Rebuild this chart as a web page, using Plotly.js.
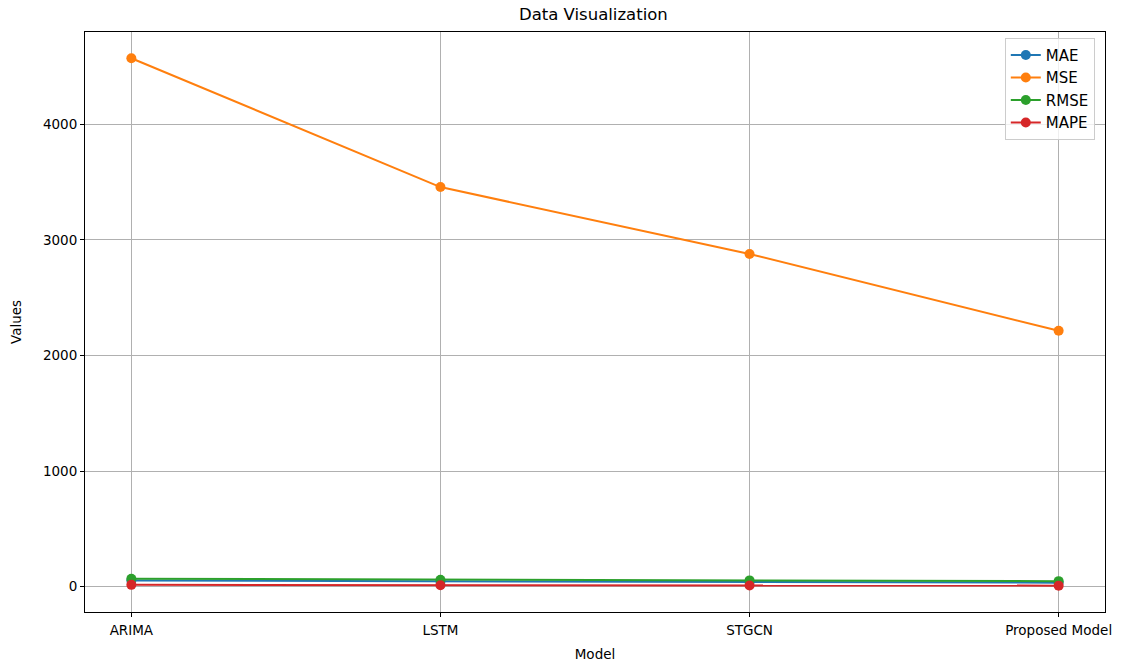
<!DOCTYPE html>
<html><head><meta charset="utf-8">
<script src="https://cdn.plot.ly/plotly-3.0.1.min.js"></script>
<style>html,body{margin:0;padding:0;background:#fff}#chart{width:1126px;height:664px}</style>
</head><body><div id="chart"></div>
<script>
const models = ["ARIMA", "LSTM", "STGCN", "Proposed Model"];
const mae  = [52, 44, 40, 34];
const mse  = [4573, 3458, 2879, 2214];
const rmse = [67.6, 58.8, 53.7, 47.1];
const mape = [15, 12, 10, 8];
const seriesNames = ["MAE", "MSE", "RMSE", "MAPE"];
const colors = ["#1f77b4", "#ff7f0e", "#2ca02c", "#d62728"];
const values = [mae, mse, rmse, mape];

const traces = values.map((v, i) => ({
  x: models, y: v, name: seriesNames[i], type: "scatter", mode: "lines+markers",
  line: {color: colors[i], width: 2}, marker: {color: colors[i], size: 10}
}));

const axisCommon = {
  showline: true, mirror: true, linecolor: "#000", linewidth: 1,
  ticks: "outside", ticklen: 4, tickcolor: "#000",
  showgrid: true, gridcolor: "#b0b0b0", gridwidth: 1, zeroline: false,
  tickfont: {size: 13.5, color: "#000"}
};

const layout = {
  width: 1126, height: 664,
  margin: {l: 85, r: 21, t: 32, b: 52},
  paper_bgcolor: "#fff", plot_bgcolor: "#fff",
  font: {family: "DejaVu Sans", color: "#000"},
  title: {text: "Data Visualization", font: {size: 16.5}, x: 0.527, xanchor: "center", y: 0.978, yanchor: "middle"},
  xaxis: Object.assign({}, axisCommon, {
    type: "category", range: [-0.15, 3.15], ticklabelstandoff: 2,
    title: {text: "Model", font: {size: 13.5}, standoff: 12}
  }),
  yaxis: Object.assign({}, axisCommon, {
    range: [-220, 4800], tickvals: [0, 1000, 2000, 3000, 4000],
    title: {text: "Values", font: {size: 13.5}, standoff: 18}
  }),
  legend: {
    x: 0.99, xanchor: "right", y: 0.99, yanchor: "top",
    bgcolor: "rgba(255,255,255,0.8)", bordercolor: "#cccccc", borderwidth: 1,
    font: {size: 15}, tracegroupgap: 0
  },
  showlegend: true
};

Plotly.newPlot("chart", traces, layout, {displayModeBar: false, staticPlot: true});
</script></body></html>
